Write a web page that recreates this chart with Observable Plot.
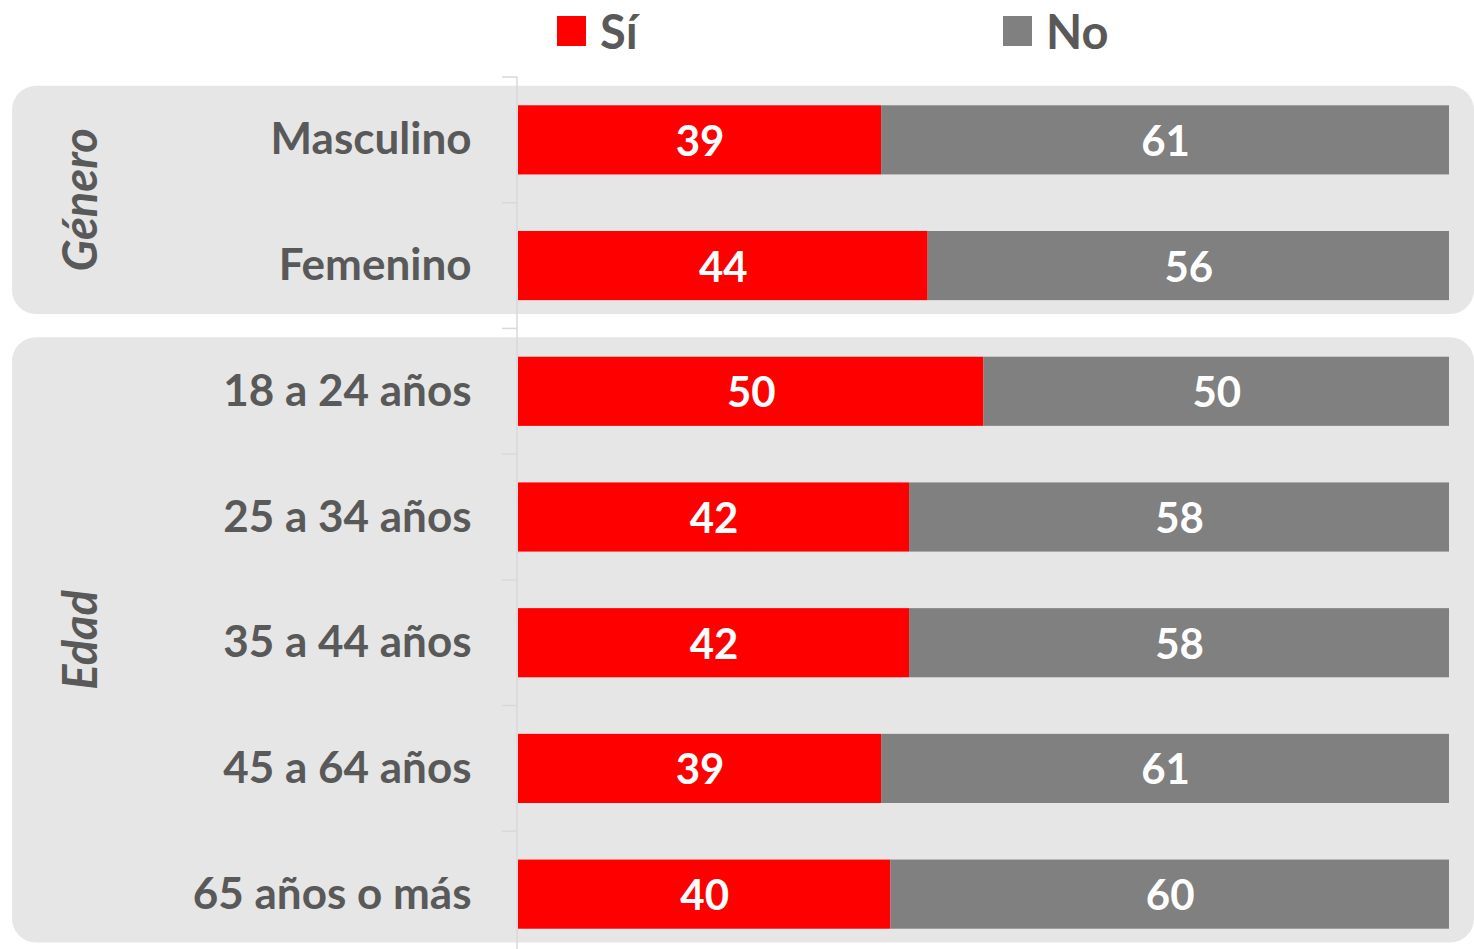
<!DOCTYPE html>
<html>
<head>
<meta charset="utf-8">
<script src="https://cdn.jsdelivr.net/npm/d3@7"></script>
<script src="https://cdn.jsdelivr.net/npm/@observablehq/plot@0.6"></script>
<style>
  html, body { margin: 0; padding: 0; background: #ffffff; }
  #wrap { position: relative; width: 1474px; height: 949px; overflow: hidden; font-family: Lato, "Open Sans", sans-serif; }
  .leg { position: absolute; top: 0; display: flex; align-items: center; height: 62px; font-weight: 700; font-size: 47px; color: #595959; }
  .sw { width: 29px; height: 30px; margin-right: 14px; }
</style>
</head>
<body>
<div id="wrap"></div>
<script>
// ---- data ----
const categories = ["Masculino", "Femenino", "18 a 24 años", "25 a 34 años", "35 a 44 años", "45 a 64 años", "65 años o más"];
const siValues = [39, 44, 50, 42, 42, 39, 40];
const noValues = [61, 56, 50, 58, 58, 61, 60];
const responses = ["Sí", "No"];
const groupNames = ["Género", "Edad"];
const groupFirst = ["Masculino", "18 a 24 años"];
const groupLast = ["Femenino", "65 años o más"];

const colors = ["#ff0000", "#808080"];
const textColor = "#595959";
const W = 1474, H = 949;

const rows = [];
categories.forEach((c, i) => {
  rows.push({cat: c, resp: "Sí", value: siValues[i]});
  rows.push({cat: c, resp: "No", value: noValues[i]});
});

// Panels and group labels (decoration based on scales)
function panels(index, scales, values, dimensions) {
  const y = scales.y;
  const bw = typeof y.bandwidth === "function" ? y.bandwidth() : scales.scales.y.bandwidth;
  const step = y(categories[1]) - y(categories[0]);
  const g = d3.create("svg:g");
  groupNames.forEach((name, i) => {
    const top = y(groupFirst[i]) - 0.155 * step;
    const bottom = y(groupLast[i]) + bw + 0.11 * step;
    g.append("rect")
      .attr("x", 12).attr("y", top)
      .attr("width", dimensions.width - 12).attr("height", bottom - top)
      .attr("rx", 24).attr("fill", "#e6e6e6");
    g.append("text")
      .attr("transform", `translate(97,${(top + bottom) / 2}) rotate(-90)`)
      .attr("text-anchor", "middle")
      .attr("font-family", "Lato, 'Open Sans', sans-serif")
      .attr("font-weight", 700).attr("font-style", "italic")
      .attr("font-size", 47).attr("fill", textColor)
      .text(name);
  });
  return g.node();
}

function axisTicks(index, scales, values, dimensions) {
  const y = scales.y;
  const bw = typeof y.bandwidth === "function" ? y.bandwidth() : scales.scales.y.bandwidth;
  const step = y(categories[1]) - y(categories[0]);
  const g = d3.create("svg:g").attr("stroke", "#d9d9d9").attr("stroke-width", 1.5);
  const x0 = dimensions.marginLeft - 1;
  categories.forEach(c => {
    const b = y(c) - (step - bw) / 2;
    g.append("line").attr("x1", x0 - 15).attr("x2", x0).attr("y1", b).attr("y2", b);
  });
  g.append("line").attr("x1", x0).attr("x2", x0)
    .attr("y1", y(categories[0]) - (step - bw) / 2).attr("y2", dimensions.height);
  return g.node();
}

const chart = Plot.plot({
  width: W,
  height: H,
  marginLeft: 518,
  marginRight: 25,
  marginTop: 77,
  marginBottom: 0,
  style: {fontFamily: "Lato, 'Open Sans', sans-serif", background: "transparent", overflow: "visible"},
  x: {domain: [0, 100], axis: null},
  y: {domain: categories, range: [77, 957], paddingInner: 0.45, paddingOuter: 0.225, round: false, axis: null},
  color: {domain: responses, range: colors},
  marks: [
    panels,
    axisTicks,
    Plot.barX(rows, Plot.stackX({x: "value", y: "cat", z: "resp", fill: "resp", order: responses})),
    Plot.textX(rows, Plot.stackX({
      x: "value", y: "cat", z: "resp", order: responses,
      text: d => String(d.value), fill: "white", fontSize: 42, fontWeight: 700, dy: 2
    })),
    Plot.text(categories, {
      y: d => d, frameAnchor: "left", dx: -47, textAnchor: "end",
      text: d => d, fill: textColor, fontSize: 44, fontWeight: 700, dy: 0
    })
  ]
});

const wrap = document.getElementById("wrap");
wrap.appendChild(chart);

// Legend (HTML, overlaid at the top)
const legendItems = [{label: responses[0], color: colors[0], left: 557}, {label: responses[1], color: colors[1], left: 1003}];
legendItems.forEach(it => {
  const d = document.createElement("div");
  d.className = "leg";
  d.style.left = it.left + "px";
  const sw = document.createElement("div");
  sw.className = "sw";
  sw.style.background = it.color;
  const t = document.createElement("span");
  t.textContent = it.label;
  d.appendChild(sw); d.appendChild(t);
  wrap.appendChild(d);
});
</script>
</body>
</html>
